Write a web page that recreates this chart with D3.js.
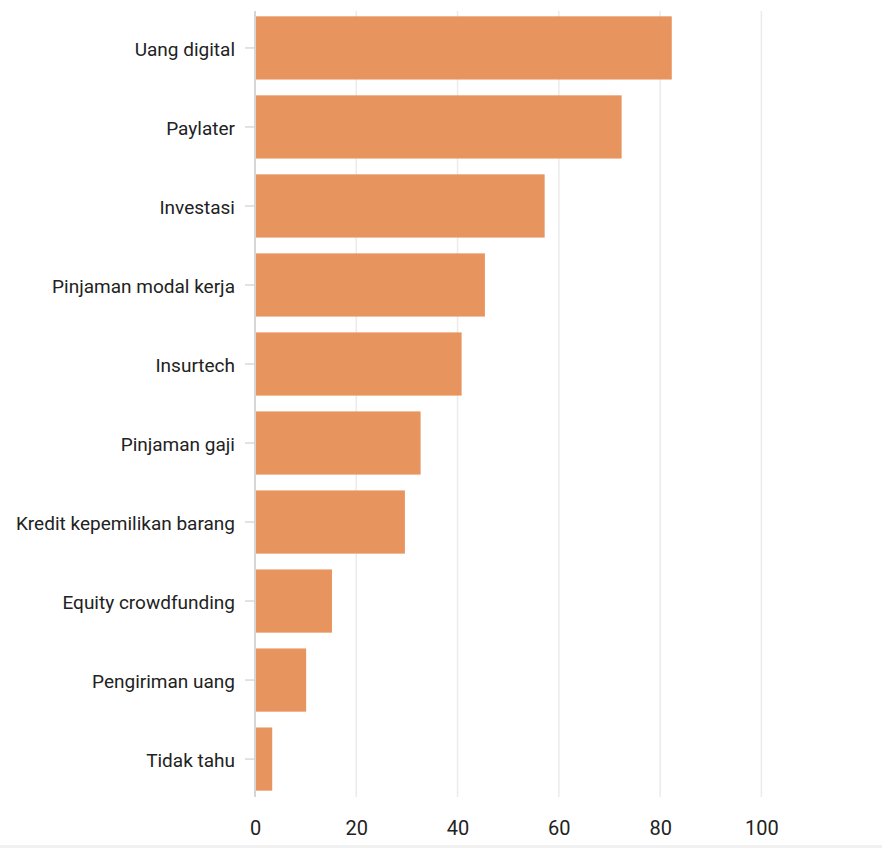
<!DOCTYPE html>
<html>
<head>
<meta charset="utf-8">
<script src="https://cdn.jsdelivr.net/npm/d3@7"></script>
<style>
  body { margin: 0; background: #fff; font-family: Roboto, "Noto Sans", sans-serif; }
  #chart { position: relative; width: 882px; height: 848px; }
  .bottom-bar { position: absolute; left: 0; top: 845px; width: 882px; height: 3px; background: #f1f1f1; }
</style>
</head>
<body>
<div id="chart"></div>
<script>
const categories = [
  "Uang digital", "Paylater", "Investasi", "Pinjaman modal kerja", "Insurtech",
  "Pinjaman gaji", "Kredit kepemilikan barang", "Equity crowdfunding",
  "Pengiriman uang", "Tidak tahu"
];
const values = [82.3, 72.4, 57.2, 45.4, 40.8, 32.7, 29.6, 15.2, 10.1, 3.4];
const xTicks = [0, 20, 40, 60, 80, 100];

const margin = { top: 10, right: 0, bottom: 51, left: 255 };
const width = 882 - margin.left - margin.right;
const height = 848 - margin.top - margin.bottom;

const container = d3.select("#chart");
container.append("div").attr("class", "bottom-bar");

const svg = container.append("svg")
  .attr("width", 882)
  .attr("height", 848)
  .append("g")
  .attr("transform", `translate(${margin.left},${margin.top})`);

const x = d3.scaleLinear().domain([0, 100]).range([0, 506.4]);
const y = d3.scaleBand()
  .domain(categories)
  .range([0, height])
  .paddingInner(0.2)
  .paddingOuter(0.08);

// gridlines
svg.append("g")
  .selectAll("line")
  .data(xTicks.filter(d => d > 0))
  .join("line")
  .attr("x1", d => x(d)).attr("x2", d => x(d))
  .attr("y1", 1).attr("y2", height)
  .attr("stroke", "#ebebeb")
  .attr("stroke-width", 1.5);

// bars
svg.append("g")
  .selectAll("rect")
  .data(values)
  .join("rect")
  .attr("x", x(0))
  .attr("y", (d, i) => y(categories[i]))
  .attr("width", d => x(d) - x(0))
  .attr("height", y.bandwidth())
  .attr("fill", "#e8945f");

// y axis
const yAxis = svg.append("g")
  .call(d3.axisLeft(y).tickSize(10).tickPadding(10).tickSizeOuter(0));
yAxis.select(".domain").remove();
yAxis.selectAll(".tick line").attr("stroke", "#d9d9d9").attr("stroke-width", 1.5);
yAxis.selectAll(".tick text")
  .attr("fill", "#222")
  .attr("dy", "0.42em")
  .style("font-size", "19px")
  .style("font-family", "Roboto, sans-serif");

// axis baseline
svg.append("line")
  .attr("x1", x(0)).attr("x2", x(0))
  .attr("y1", 1).attr("y2", height)
  .attr("stroke", "#d6d6d6")
  .attr("stroke-width", 2);

// x axis
const xAxis = svg.append("g")
  .attr("transform", `translate(0,${height})`)
  .call(d3.axisBottom(x).tickValues(xTicks).tickSize(0).tickPadding(24));
xAxis.select(".domain").remove();
xAxis.selectAll(".tick text")
  .attr("fill", "#222")
  .style("font-size", "20px")
  .style("font-family", "Roboto, sans-serif");
</script>
</body>
</html>
